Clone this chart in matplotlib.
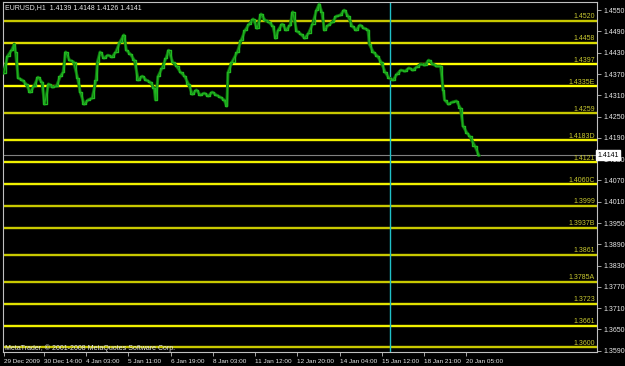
import matplotlib.pyplot as plt

# hourly bar index (from chart start) and close price
bars = [0, 3, 6, 8, 9, 11, 14, 17, 20, 23, 26, 29, 31, 34, 37, 40, 43, 45, 47, 50,
        53, 56, 58, 61, 64, 67, 70, 71, 73, 76, 79, 82, 85, 88, 91, 93, 96, 99, 102, 105,
        108, 111, 114, 115, 117, 120, 123, 125, 128, 131, 134, 137, 140, 143, 146, 149, 152, 155, 158, 161,
        164, 167, 169, 170, 173, 177, 180, 183, 186, 189, 192, 195, 198, 201, 204, 206, 208, 211, 214, 217,
        219, 222, 225, 228, 231, 234, 237, 239, 241, 243, 246, 249, 252, 255, 258, 261, 264, 267, 270, 273,
        276, 277, 280, 283, 286, 289, 292, 295, 298, 301, 304, 307, 310, 313, 316, 319, 322, 325, 328, 331,
        333, 334, 337, 340, 343, 346, 348, 351, 353, 357, 360]
closes = [1.4373, 1.4421, 1.4437, 1.4454, 1.4432, 1.4359, 1.4353, 1.4342, 1.4319, 1.4336,
          1.4361, 1.4347, 1.4285, 1.4342, 1.4333, 1.4336, 1.4364, 1.4375, 1.4432, 1.4409,
          1.4404, 1.4359, 1.4319, 1.4285, 1.4297, 1.4302, 1.4353, 1.4404, 1.4432, 1.4415,
          1.4423, 1.4418, 1.4432, 1.4460, 1.4480, 1.4437, 1.4426, 1.4409, 1.4353, 1.4364,
          1.4353, 1.4347, 1.4330, 1.4297, 1.4364, 1.4387, 1.4415, 1.4437, 1.4404, 1.4392,
          1.4375, 1.4364, 1.4342, 1.4313, 1.4325, 1.4311, 1.4316, 1.4308, 1.4319, 1.4311,
          1.4305, 1.4297, 1.4280, 1.4375, 1.4404, 1.4432, 1.4466, 1.4494, 1.4511, 1.4525,
          1.4499, 1.4539, 1.4522, 1.4516, 1.4505, 1.4471, 1.4494, 1.4511, 1.4494, 1.4508,
          1.4545, 1.4491, 1.4483, 1.4471, 1.4485, 1.4511, 1.4550, 1.4567, 1.4545, 1.4494,
          1.4508, 1.4516, 1.4533, 1.4536, 1.4550, 1.4533, 1.4505, 1.4494, 1.4508, 1.4499,
          1.4494, 1.4454, 1.4432, 1.4421, 1.4404, 1.4375, 1.4359, 1.4353, 1.4370, 1.4381,
          1.4378, 1.4387, 1.4381, 1.4390, 1.4398, 1.4395, 1.4409, 1.4398, 1.4392, 1.4392,
          1.4325, 1.4297, 1.4285, 1.4291, 1.4294, 1.4274, 1.4223, 1.4204, 1.4195, 1.4167,
          1.4141]

level_prices = [1.4520, 1.4458, 1.4397, 1.4335, 1.4259, 1.4183, 1.4121, 1.4060,
                1.3999, 1.3937, 1.3861, 1.3785, 1.3723, 1.3661, 1.3600]
level_labels = ["1.4520", "1.4458", "1.4397", "1.4335E", "1.4259", "1.4183D", "1.4121",
                "1.4060C", "1.3999", "1.3937B", "1.3861", "1.3785A", "1.3723", "1.3661", "1.3600"]
level_colors = ["#c8c800", "#dcdc00", "#ffff00", "#ffff00", "#c8c800", "#f0f000", "#f0f000",
                "#f0f000", "#c8c800", "#c8c800", "#c8c800", "#c8c800", "#e0e000", "#f0f000", "#c8c800"]

price_ticks = [1.4550, 1.4490, 1.4430, 1.4370, 1.4310, 1.4250, 1.4190, 1.4130, 1.4070,
               1.4010, 1.3950, 1.3890, 1.3830, 1.3770, 1.3710, 1.3650, 1.3590]
time_ticks = [0, 30.5, 62.5, 94.5, 126.5, 158.5, 190.5, 222.5, 254.5, 286.5, 318.5, 350.5]
time_labels = ["29 Dec 2009", "30 Dec 14:00", "4 Jan 03:00", "5 Jan 11:00", "6 Jan 19:00",
               "8 Jan 03:00", "11 Jan 12:00", "12 Jan 20:00", "14 Jan 04:00", "15 Jan 12:00",
               "18 Jan 21:00", "20 Jan 05:00"]

last_price = 1.4141
cursor_bar = 293
header = "EURUSD,H1  1.4139 1.4148 1.4126 1.4141"
footer = "MetaTrader, \u00a9 2001-2008 MetaQuotes Software Corp."

plt.rcParams['font.family'] = ['Liberation Sans', 'DejaVu Sans']

W, H = 625, 366
fig = plt.figure(figsize=(W / 100, H / 100), dpi=100, facecolor='black')
ax = fig.add_axes([3 / W, 1 - 352 / H, 594 / W, 350 / H], facecolor='black')

ax.set_xlim(-0.5, 449.5)
ax.set_ylim(1.35865, 1.4573)

for p, lab, c in zip(level_prices, level_labels, level_colors):
    ax.axhline(p, color=c, lw=1.7, zorder=2)
    ax.text(448, p + 0.0001, lab, color='#c8c830', fontsize=5, ha='right', va='bottom', zorder=3)

ax.axhline(last_price, color='#808080', lw=0.8, zorder=2)
ax.axvline(cursor_bar, color='#20c0c8', lw=1.0, zorder=2)

# price path: dark green body with a brighter core, like the MT4 bars
ax.plot(bars, closes, color='#0b6e0b', lw=2.2, zorder=4)
ax.plot(bars, closes, color='#22bb22', lw=1.0, zorder=5, drawstyle='steps-mid')
ax.plot(bars, closes, color='#1faa1f', lw=0.8, zorder=5)

for s in ax.spines.values():
    s.set_color('#c0c0c0')
    s.set_linewidth(0.8)

ax.yaxis.tick_right()
ax.set_yticks(price_ticks)
ax.set_yticklabels([f"{v:.4f}" for v in price_ticks])
ax.tick_params(axis='y', colors='#c0c0c0', labelcolor='#e8e8e8', labelsize=5, length=3, width=0.6, pad=2)

ax.set_xticks(time_ticks)
ax.set_xticklabels(time_labels, ha='left')
ax.tick_params(axis='x', colors='#c0c0c0', labelcolor='#e8e8e8', labelsize=4.6, length=3, width=0.6, pad=2)

ax.text(1.0, last_price, f"{last_price:.4f}", transform=ax.get_yaxis_transform(),
        fontsize=5, color='black', ha='left', va='center', zorder=10, clip_on=False,
        bbox=dict(boxstyle='square,pad=0.2', fc='white', ec='white'))

fig.text(5 / W, 1 - 8 / H, header, color='#e8e8e8', fontsize=5, ha='left', va='center')
ax.text(1, 1.35875, footer, color='#e8e8e8', fontsize=5, ha='left', va='bottom', zorder=6)

fig.savefig("out.png", dpi=100, facecolor='black')
